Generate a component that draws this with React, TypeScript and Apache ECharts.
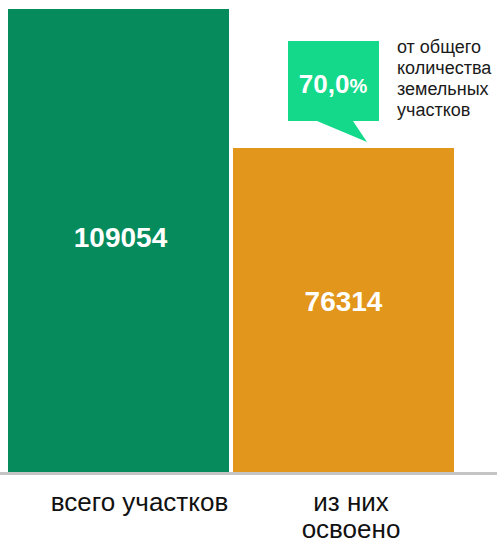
import React, { useEffect, useRef } from "react";
import * as echarts from "echarts";

const categories = ["всего участков", "из них\nосвоено"];
const values = [109054, 76314];
const barColors = ["#058B5C", "#E2971C"];
const shareValue = "70,0";
const shareUnit = "%";
const noteLines = ["от общего", "количества", "земельных", "участков"];

const FONT = "Arial";

export default function App() {
  const ref = useRef<HTMLDivElement>(null);
  useEffect(() => {
    if (!ref.current) return;
    const chart = echarts.init(ref.current, null, { renderer: "svg" });
    chart.setOption({
      animation: false,
      backgroundColor: "#ffffff",
      grid: { left: 6, right: 41, top: 9, bottom: 72 },
      xAxis: {
        type: "category",
        data: categories.map((c, i) => ({
          value: c,
          textStyle: { padding: i === 0 ? [0, 0, 0, 42] : [0, 0, 0, 15] },
        })),
        axisLine: { show: false },
        axisTick: { show: false },
        axisLabel: {
          color: "#111111",
          fontSize: 26,
          fontFamily: FONT,
          lineHeight: 27.5,
          margin: 16,
          interval: 0,
        },
      },
      yAxis: {
        type: "value",
        min: 0,
        max: values[0],
        show: false,
        splitLine: { show: false },
      },
      series: [
        {
          type: "bar",
          barWidth: 221,
          data: values.map((v, i) => ({
            value: v,
            itemStyle: { color: barColors[i] },
            label: {
              show: true,
              position: "inside",
              offset: i === 0 ? [2, -3] : [0, -9],
              color: "#ffffff",
              fontSize: 28,
              fontWeight: "bold",
              fontFamily: FONT,
            },
          })),
        },
      ],
      graphic: [
        {
          type: "line",
          shape: { x1: 0, y1: 473.5, x2: 497, y2: 473.5 },
          style: { stroke: "#c4c4c4", lineWidth: 3 },
          z: 10,
        },
        {
          type: "polygon",
          shape: {
            points: [
              [288, 41],
              [379, 41],
              [379, 121],
              [353, 121],
              [367, 142],
              [317, 121],
              [288, 121],
            ],
          },
          style: { fill: "#14D98A" },
          z: 10,
        },
        {
          type: "text",
          x: 333,
          y: 84,
          z: 11,
          style: {
            text: "{a|" + shareValue + "}{b|" + shareUnit + "}",
            align: "center",
            verticalAlign: "middle",
            rich: {
              a: {
                fontSize: 26,
                fontWeight: "bold",
                fontFamily: FONT,
                fill: "#ffffff",
                color: "#ffffff",
              },
              b: {
                fontSize: 20,
                fontWeight: "bold",
                fontFamily: FONT,
                fill: "#ffffff",
                color: "#ffffff",
                padding: [4, 0, 0, 0],
              },
            },
          },
        },
        {
          type: "text",
          x: 397,
          y: 37,
          z: 11,
          style: {
            text: noteLines.map((l) => "{n|" + l + "}").join("\n"),
            align: "left",
            verticalAlign: "top",
            rich: {
              n: {
                fontSize: 18,
                lineHeight: 20.8,
                fontFamily: FONT,
                fill: "#1a1a1a",
                color: "#1a1a1a",
              },
            },
          },
        },
      ],
    });
    return () => chart.dispose();
  }, []);
  return (
    <div
      ref={ref}
      style={{ position: "absolute", left: 0, top: 0, width: 497, height: 544 }}
    />
  );
}
